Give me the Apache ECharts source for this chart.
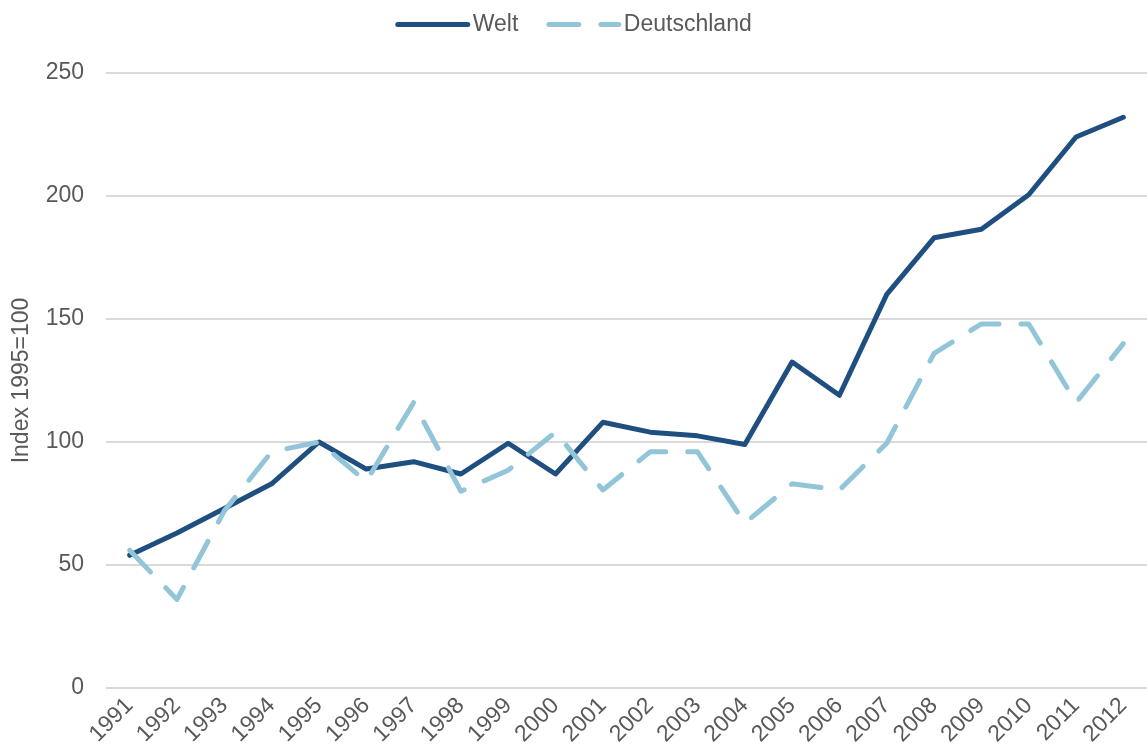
<!DOCTYPE html>
<html>
<head>
<meta charset="utf-8">
<script src="https://cdn.jsdelivr.net/npm/echarts@6/dist/echarts.min.js"></script>
<style>
	html, body { margin: 0; padding: 0; background: #fff; }
	#chart { width: 1147px; height: 754px; }
</style>
</head>
<body>
<div id="chart"></div>
<script>
const years = ['1991', '1992', '1993', '1994', '1995', '1996', '1997', '1998', '1999', '2000', '2001',
	'2002', '2003', '2004', '2005', '2006', '2007', '2008', '2009', '2010', '2011', '2012']
const welt = [54, 63, 73, 83, 100, 89, 92, 87, 99.5, 87, 108, 104, 102.5, 99, 132.5, 119, 160, 183, 186.5, 200.5, 224, 232]
const deutschland = [56, 36, 72, 96, 100, 84, 116, 80, 88.5, 104, 80.5, 96, 96, 67, 83, 80.5, 99.5, 136, 148, 148, 116, 140]
const yTicks = { min: 0, max: 250, interval: 50 }

const textColor = '#595959'
const font = 'Liberation Sans, Arial, sans-serif'

const chart = echarts.init(document.getElementById('chart'))

const option = {
	animation: false,
	textStyle: { fontFamily: font },
	legend: {
		top: 8,
		left: 'center',
		itemWidth: 70,
		itemHeight: 14,
		itemGap: 28,
		itemStyle: { opacity: 0, borderWidth: 0 },
		lineStyle: { width: 5, cap: 'round' },
		textStyle: { fontSize: 23, color: textColor, fontFamily: font },
		data: ['Welt', 'Deutschland']
	},
	grid: {
		left: 106,
		right: -7,
		top: 73,
		bottom: 66,
		containLabel: false
	},
	xAxis: {
		type: 'category',
		data: years,
		boundaryGap: true,
		axisLine: { show: false },
		axisTick: { show: false },
		axisLabel: {
			rotate: 45,
			interval: 0,
			margin: 14,
			fontSize: 23,
			color: textColor,
			fontFamily: font
		}
	},
	yAxis: {
		type: 'value',
		min: yTicks.min,
		max: yTicks.max,
		interval: yTicks.interval,
		name: 'Index 1995=100',
		nameLocation: 'middle',
		nameRotate: 90,
		nameGap: 73,
		nameTextStyle: { fontSize: 23, color: textColor, fontFamily: font },
		axisLine: { show: false },
		axisTick: { show: false },
		axisLabel: { fontSize: 23, color: textColor, margin: 22, fontFamily: font },
		splitLine: { lineStyle: { color: '#d9d9d9', width: 2 } }
	},
	series: [
		{
			name: 'Welt',
			type: 'line',
			data: welt,
			symbol: 'none',
			color: '#1f4e80',
			lineStyle: { color: '#1f4e80', width: 5, cap: 'round', join: 'round' }
		},
		{
			name: 'Deutschland',
			type: 'line',
			data: deutschland,
			symbol: 'none',
			color: '#92c5d7',
			lineStyle: { color: '#92c5d7', width: 5, type: [30, 22], cap: 'round', join: 'round' }
		}
	]
}

chart.setOption(option)
</script>
</body>
</html>
